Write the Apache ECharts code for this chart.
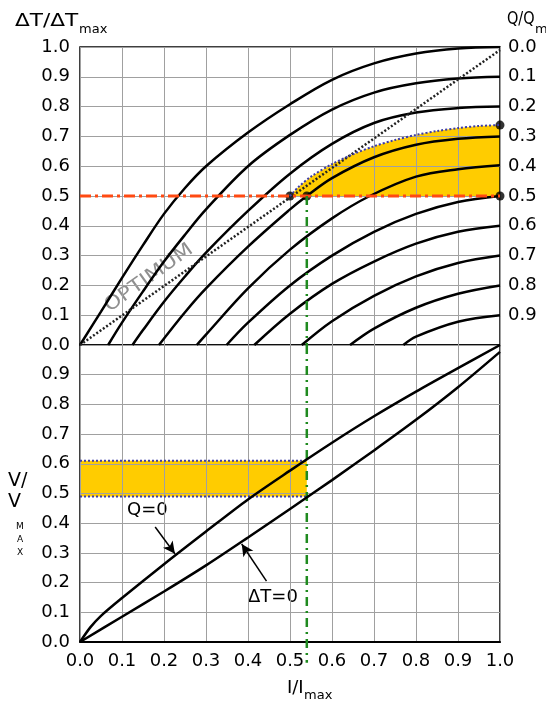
<!DOCTYPE html>
<html>
<head>
<meta charset="utf-8">
<script src="https://cdn.jsdelivr.net/npm/echarts@6/dist/echarts.min.js"></script>
<style>
html, body { margin: 0; padding: 0; background: #fff; }
#chart { width: 546px; height: 705px; }
</style>
</head>
<body>
<div id="chart"></div>
<script>
// dT/dTmax vs I/Imax, one curve per Q/Qmax (0.0 ... 0.9)
var q00 = [[0,0],[0.05,0.112],[0.1,0.225],[0.15,0.335],[0.2,0.44],[0.25,0.527],[0.3,0.6],[0.4,0.713],[0.5,0.808],[0.6,0.89],[0.7,0.945],[0.8,0.978],[0.9,0.995],[1,1]];
var q01 = [[0.067,0],[0.1,0.075],[0.15,0.18],[0.2,0.28],[0.25,0.37],[0.3,0.455],[0.4,0.6],[0.5,0.705],[0.6,0.79],[0.7,0.847],[0.8,0.878],[0.9,0.894],[1,0.9]];
var q02 = [[0.125,0],[0.15,0.05],[0.2,0.145],[0.25,0.23],[0.3,0.31],[0.4,0.45],[0.5,0.575],[0.6,0.675],[0.7,0.745],[0.8,0.78],[0.9,0.795],[1,0.8]];
var q03 = [[0.188,0],[0.25,0.11],[0.3,0.19],[0.4,0.33],[0.5,0.455],[0.54,0.5],[0.6,0.56],[0.7,0.63],[0.8,0.672],[0.9,0.692],[1,0.7]];
var q04 = [[0.278,0],[0.3,0.035],[0.4,0.19],[0.5,0.32],[0.6,0.425],[0.69,0.5],[0.8,0.565],[0.9,0.59],[1,0.603]];
var q05 = [[0.349,0],[0.4,0.075],[0.5,0.2],[0.6,0.3],[0.7,0.38],[0.8,0.44],[0.9,0.48],[1,0.5]];
var q06 = [[0.415,0],[0.5,0.105],[0.6,0.205],[0.7,0.28],[0.8,0.34],[0.9,0.38],[1,0.4]];
var q07 = [[0.528,0],[0.6,0.08],[0.7,0.165],[0.8,0.23],[0.9,0.275],[1,0.3]];
var q08 = [[0.643,0],[0.7,0.055],[0.8,0.125],[0.9,0.172],[1,0.2]];
var q09 = [[0.77,0],[0.8,0.028],[0.9,0.078],[1,0.1]];
var qCurves = [q00, q01, q02, q03, q04, q05, q06, q07, q08, q09];
var qTickLabels = ['0.0','0.1','0.2','0.3','0.4','0.5','0.6','0.7','0.8','0.9'];

var optimum = [[0,0],[1,0.99]];
// upper edge of the working area
var blueEdge = [[0.5,0.5],[0.52,0.53],[0.55,0.565],[0.6,0.607],[0.65,0.64],[0.7,0.667],[0.75,0.688],[0.8,0.705],[0.85,0.718],[0.9,0.728],[0.95,0.735],[1,0.738]];
var dtTarget = 0.5;
var iOp = 0.54;
var keyDots = [[0.5,0.5],[0.54,0.5],[1,0.5],[1,0.738]];

// V/Vmax vs I/Imax
var vQ0 = [[0,0],[0.025,0.05],[0.05,0.088],[0.1,0.148],[0.2,0.262],[0.3,0.372],[0.4,0.48],[0.5,0.577],[0.6,0.671],[0.7,0.76],[0.8,0.843],[0.9,0.922],[1,1]];
var vDT0 = [[0,0],[0.1,0.085],[0.2,0.17],[0.3,0.258],[0.4,0.352],[0.5,0.448],[0.6,0.545],[0.7,0.645],[0.8,0.748],[0.9,0.858],[1,0.977]];
var vLow = 0.49;
var vHigh = 0.61;

var FONT = 'DejaVu Sans';
var chart = echarts.init(document.getElementById('chart'));

function polyItem(poly) {
  return function (params, api) {
    if (params.dataIndex !== 0) return null;
    return {
      type: 'polygon',
      shape: { points: poly.map(function (p) { return api.coord(p); }) },
      style: { fill: '#ffcc00' }
    };
  };
}

var topPoly = blueEdge.concat([[1, dtTarget], [0.5, dtTarget]]);
var bandPoly = [[0, vLow], [iOp, vLow], [iOp, vHigh], [0, vHigh]];

function axisLbl(extra) {
  var o = { color: '#000', fontSize: 18, fontFamily: FONT };
  for (var k in extra) o[k] = extra[k];
  return o;
}
var gridLine = { lineStyle: { color: '#a0a0a0', width: 1 } };

var series = [];
series.push({ type: 'custom', xAxisIndex: 0, yAxisIndex: 0, z: -1, silent: true,
  renderItem: polyItem(topPoly), data: topPoly, encode: { x: 0, y: 1 } });
series.push({ type: 'custom', xAxisIndex: 1, yAxisIndex: 2, z: -1, silent: true,
  renderItem: polyItem(bandPoly), data: bandPoly, encode: { x: 0, y: 1 } });

for (var c = 0; c < qCurves.length; c++) {
  series.push({ name: 'Q/Qmax ' + qTickLabels[c], type: 'line', xAxisIndex: 0, yAxisIndex: 0,
    data: qCurves[c], smooth: 0.35, showSymbol: false, silent: true,
    lineStyle: { color: '#000', width: 2.5 } });
}
series.push({ type: 'line', xAxisIndex: 0, yAxisIndex: 0, data: optimum, showSymbol: false, silent: true,
  lineStyle: { color: '#222', width: 2.5, type: [2, 2] } });
series.push({ type: 'line', xAxisIndex: 0, yAxisIndex: 0, data: blueEdge, smooth: 0.3, showSymbol: false, silent: true,
  lineStyle: { color: '#3b3ba8', width: 2, type: [2, 2] } });
series.push({ type: 'line', xAxisIndex: 0, yAxisIndex: 0, data: [[0, dtTarget], [1, dtTarget]], showSymbol: false, silent: true,
  lineStyle: { color: '#ff4a12', width: 3, type: [11, 4, 3, 4] } });
series.push({ type: 'line', xAxisIndex: 0, yAxisIndex: 0, data: [[iOp, dtTarget], [iOp, 0]], showSymbol: false, silent: true,
  lineStyle: { color: '#1f8a1f', width: 2.5, type: [9, 5, 2, 5] } });
series.push({ type: 'scatter', xAxisIndex: 0, yAxisIndex: 0, data: keyDots, symbolSize: 9, clip: false, silent: true,
  itemStyle: { color: '#000' } });

series.push({ type: 'line', xAxisIndex: 1, yAxisIndex: 2, data: [[0, vLow], [iOp, vLow]], showSymbol: false, silent: true,
  lineStyle: { color: '#3b3ba8', width: 2, type: [2, 2] } });
series.push({ type: 'line', xAxisIndex: 1, yAxisIndex: 2, data: [[0, vHigh], [iOp, vHigh]], showSymbol: false, silent: true,
  lineStyle: { color: '#3b3ba8', width: 2, type: [2, 2] } });
series.push({ type: 'line', xAxisIndex: 1, yAxisIndex: 2, data: [[iOp, 1], [iOp, -0.07]], showSymbol: false, silent: true, clip: false,
  lineStyle: { color: '#1f8a1f', width: 2.5, type: [9, 5, 2, 5] } });
series.push({ name: 'Q=0', type: 'line', xAxisIndex: 1, yAxisIndex: 2, data: vQ0, smooth: 0.3, showSymbol: false, silent: true,
  lineStyle: { color: '#000', width: 2.5 },
  markLine: { silent: true, symbol: ['none', 'arrow'], symbolSize: [9, 12], label: { show: false },
    lineStyle: { color: '#000', width: 1.5, type: 'solid' },
    data: [
      [{ coord: [0.179, 0.387] }, { coord: [0.226, 0.297] }],
      [{ coord: [0.444, 0.205] }, { coord: [0.385, 0.33] }]
    ] } });
series.push({ name: 'dT=0', type: 'line', xAxisIndex: 1, yAxisIndex: 2, data: vDT0, smooth: 0.3, showSymbol: false, silent: true,
  lineStyle: { color: '#000', width: 2.5 } });

function txt(x, y, s, size, extra) {
  var el = { type: 'text', x: x, y: y, silent: true,
    style: { text: s, fontSize: size, fontFamily: FONT, fill: '#000', align: 'left', verticalAlign: 'middle' } };
  for (var k in extra) el[k] = extra[k];
  return el;
}

var option = {
  backgroundColor: '#fff',
  animation: false,
  grid: [
    { left: 80, top: 47, width: 420, height: 298, show: true, borderColor: '#000', borderWidth: 1.5, containLabel: false },
    { left: 80, top: 345, width: 420, height: 297, show: true, borderColor: '#000', borderWidth: 1.5, containLabel: false }
  ],
  xAxis: [
    { gridIndex: 0, type: 'value', min: 0, max: 1, interval: 0.1,
      axisLabel: { show: false }, axisTick: { show: false }, axisLine: { show: false }, splitLine: gridLine },
    { gridIndex: 1, type: 'value', min: 0, max: 1, interval: 0.1,
      axisLabel: axisLbl({ margin: 10, showMinLabel: true, showMaxLabel: true, formatter: function (v) { return v.toFixed(1); } }),
      axisTick: { show: false }, axisLine: { lineStyle: { color: '#000', width: 2 } }, splitLine: gridLine }
  ],
  yAxis: [
    { gridIndex: 0, type: 'value', min: 0, max: 1, interval: 0.1,
      axisLabel: axisLbl({ margin: 10, showMinLabel: true, showMaxLabel: true, formatter: function (v) { return v.toFixed(1); } }),
      axisTick: { show: false }, axisLine: { show: false }, splitLine: gridLine },
    { gridIndex: 0, type: 'value', position: 'right', inverse: true, min: 0, max: 1, interval: 0.1,
      axisLabel: axisLbl({ margin: 8, showMinLabel: true, formatter: function (v) {
        var k = Math.round(v * 10); return k < qTickLabels.length ? qTickLabels[k] : ''; } }),
      axisTick: { show: false }, axisLine: { show: false }, splitLine: { show: false } },
    { gridIndex: 1, type: 'value', min: 0, max: 1, interval: 0.1,
      axisLabel: axisLbl({ margin: 10, showMinLabel: true, formatter: function (v) { return v > 0.95 ? '' : v.toFixed(1); } }),
      axisTick: { show: false }, axisLine: { show: false }, splitLine: gridLine }
  ],
  graphic: [
    txt(15, 21, 'ΔT/ΔT', 18, { scaleX: 1.2 }),
    txt(79, 30, 'max', 13),
    txt(507, 20, 'Q/Q', 17, { scaleX: 0.85 }),
    txt(535, 30, 'max', 13),
    txt(287, 688, 'I/I', 18),
    txt(304, 696, 'max', 13),
    txt(8, 481, 'V/', 19),
    txt(8, 502, 'V', 19),
    txt(16, 527, 'M', 9),
    txt(17, 540, 'A', 9),
    txt(17, 553, 'X', 9),
    txt(127, 510, 'Q=0', 18),
    txt(248, 597, 'ΔT=0', 18),
    { type: 'text', x: 149, y: 278, rotation: 0.62, scaleX: 1.15, silent: true,
      style: { text: 'OPTIMUM', fontSize: 19, fontFamily: FONT, fill: '#8f8f8f', align: 'center', verticalAlign: 'middle' } }
  ],
  series: series
};
chart.setOption(option);
</script>
</body>
</html>
